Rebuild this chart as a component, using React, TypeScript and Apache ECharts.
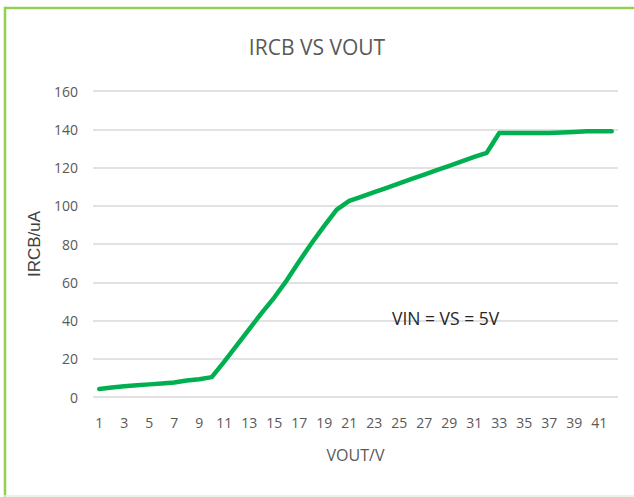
import React, { useEffect, useRef } from "react";
import * as echarts from "echarts";

const categories = [
  "1","2","3","4","5","6","7","8","9","10","11","12","13","14","15","16","17","18","19","20","21",
  "22","23","24","25","26","27","28","29","30","31","32","33","34","35","36","37","38","39","40","41","42",
];
const ircb = [
  4.2, 5.0, 5.6, 6.1, 6.6, 7.1, 7.6, 8.6, 9.3, 10.4,
  18.5, 27, 35.5, 44, 52, 61, 71, 80.5, 89.5, 98,
  102.5, 104.8, 107.1, 109.4, 111.7, 114, 116.3, 118.6, 120.9, 123.2,
  125.5, 127.7, 138, 138, 138, 138, 138, 138.3, 138.6, 138.9,
  139, 139,
];
const titleText = "IRCB VS VOUT";
const xName = "VOUT/V";
const yName = "IRCB/uA";
const note = "VIN = VS = 5V";

const FONT = "'Open Sans', sans-serif";

export default function App() {
  const ref = useRef<HTMLDivElement>(null);
  useEffect(() => {
    document.body.style.margin = "0";
    const chart = echarts.init(ref.current!, null, { renderer: "svg" });
    chart.setOption({
      animation: false,
      backgroundColor: "#ffffff",
      title: {
        text: titleText,
        left: "center",
        top: 31,
        textStyle: { fontFamily: FONT, fontSize: 21, fontWeight: "normal", color: "#595959" },
      },
      grid: { left: 93, right: 16, top: 91, bottom: 100 },
      xAxis: {
        type: "category",
        data: categories,
        boundaryGap: true,
        name: xName,
        nameLocation: "middle",
        nameGap: 50,
        nameTextStyle: { fontFamily: FONT, fontSize: 16, color: "#595959" },
        axisLine: { show: false },
        axisTick: { show: false },
        axisLabel: { interval: 1, fontFamily: FONT, fontSize: 14, color: "#595959", margin: 18 },
        splitLine: { show: false },
      },
      yAxis: {
        type: "value",
        min: 0,
        max: 160,
        interval: 20,
        name: yName,
        nameLocation: "middle",
        nameGap: 44,
        nameRotate: 90,
        nameTextStyle: { fontFamily: "'Liberation Sans', Arial, sans-serif", fontSize: 17, color: "#404040" },
        axisLine: { show: false },
        axisTick: { show: false },
        axisLabel: { fontFamily: FONT, fontSize: 14, color: "#595959", margin: 15 },
        splitLine: { lineStyle: { color: "#d9d9d9", width: 1.5 } },
      },
      series: [
        {
          type: "line",
          data: ircb,
          showSymbol: false,
          symbol: "none",
          lineStyle: { color: "#00B050", width: 4.5, cap: "round", join: "round" },
          z: 5,
        },
      ],
      graphic: [
        {
          type: "text",
          left: 392,
          top: 309,
          z: 10,
          style: { text: note, fontFamily: FONT, fontSize: 17.5, fill: "#262626" },
        },
        {
          type: "line",
          z: 20,
          shape: { x1: 4, y1: 8, x2: 640, y2: 8 },
          style: { stroke: "#92D050", lineWidth: 2.5 },
        },
        {
          type: "line",
          z: 20,
          shape: { x1: 5, y1: 7, x2: 5, y2: 497 },
          style: { stroke: "#92D050", lineWidth: 2.5 },
        },
        {
          type: "line",
          z: 20,
          shape: { x1: 4, y1: 496, x2: 640, y2: 496 },
          style: { stroke: "#E2F0D9", lineWidth: 1.5 },
        },
      ],
    });
    return () => chart.dispose();
  }, []);
  return (
    <div
      ref={ref}
      style={{ position: "absolute", left: 0, top: 0, width: 634, height: 497 }}
    />
  );
}
